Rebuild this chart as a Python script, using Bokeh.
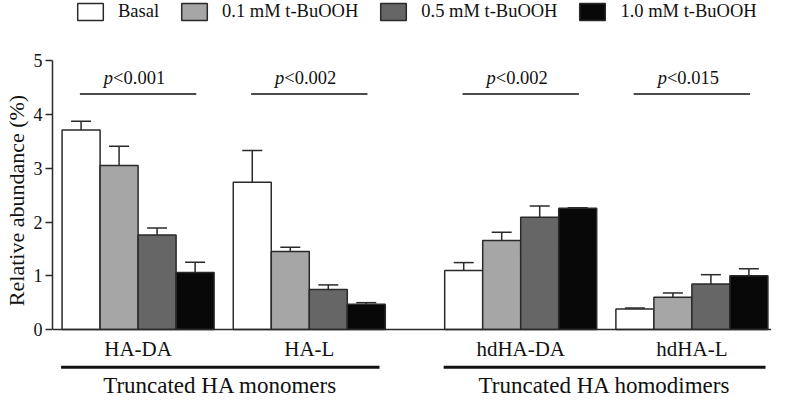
from bokeh.plotting import figure
from bokeh.models import (Range1d, Legend, LegendItem, ColumnDataSource, FixedTicker,
                          Whisker, TeeHead, Span)
from bokeh.core.properties import value
from bokeh.embed import file_html
from bokeh.resources import INLINE

# ---- data ----
categories = ["HA-DA", "HA-L", "hdHA-DA", "hdHA-L"]
treatments = ["Basal", "0.1 mM t-BuOOH", "0.5 mM t-BuOOH", "1.0 mM t-BuOOH"]
basal = [3.71, 2.74, 1.10, 0.38]
basal_err = [0.165, 0.59, 0.145, 0.02]
mM01 = [3.05, 1.45, 1.655, 0.60]
mM01_err = [0.36, 0.08, 0.155, 0.08]
mM05 = [1.76, 0.745, 2.09, 0.845]
mM05_err = [0.13, 0.085, 0.21, 0.175]
mM10 = [1.06, 0.47, 2.255, 1.00]
mM10_err = [0.19, 0.03, 0.01, 0.13]
p_values = ["<0.001", "<0.002", "<0.002", "<0.015"]
group_names = ["Truncated HA monomers", "Truncated HA homodimers"]
y_ticks = [0, 1, 2, 3, 4, 5]

series = [basal, mM01, mM05, mM10]
errors = [basal_err, mM01_err, mM05_err, mM10_err]
colors = ["#ffffff", "#a6a6a6", "#666666", "#080808"]

FONT = "Liberation Serif"
BAR_W = 0.222
GAP = 0.235
OFFSET0 = 0.5

centers = [OFFSET0 + i + (GAP if i >= 2 else 0) for i in range(len(categories))]

p = figure(width=771, height=400, output_backend="svg", toolbar_location=None,
           x_range=Range1d(0, 4.2), y_range=Range1d(-1.32, 6.12),
           x_axis_location=None, min_border=0, min_border_left=0)
p.outline_line_color = None
p.grid.visible = False
p.background_fill_color = "white"

items = []
for k, (vals, errs, col, name) in enumerate(zip(series, errors, colors, treatments)):
    xs = [c + (k - 1.5) * BAR_W for c in centers]
    src = ColumnDataSource(dict(x=xs, top=vals, upper=[v + e for v, e in zip(vals, errs)]))
    r = p.vbar(x="x", top="top", bottom=0, width=BAR_W, source=src,
               fill_color=col, line_color="#2a2a2a", line_width=1.5)
    w = Whisker(source=src, base="x", lower="top", upper="upper", dimension="height",
                line_color="#2a2a2a", line_width=1.5, lower_head=None,
                upper_head=TeeHead(size=20, line_color="#2a2a2a", line_width=1.5))
    p.add_layout(w)
    items.append(LegendItem(label=name, renderers=[r]))

# baseline
p.add_layout(Span(location=0, dimension="width", line_color="#2a2a2a", line_width=1.5))

# y axis
ax = p.yaxis[0]
ax.bounds = (0, 5)
ax.ticker = FixedTicker(ticks=y_ticks)
ax.minor_tick_line_color = None
ax.major_tick_in = 0
ax.major_tick_out = 7
ax.axis_line_width = 1.5
ax.axis_line_color = "#2a2a2a"
ax.major_tick_line_width = 1.5
ax.major_tick_line_color = "#2a2a2a"
ax.major_label_text_font = FONT
ax.major_label_text_font_size = "18px"
ax.major_label_text_color = "#111111"
ax.major_label_standoff = 3
ax.axis_label = "Relative abundance (%)"
ax.axis_label_text_font = FONT
ax.axis_label_text_font_size = "22px"
ax.axis_label_text_font_style = "normal"
ax.axis_label_text_color = "#111111"
ax.axis_label_standoff = 2

# p-value annotations
P_LINE_Y = 4.38
P_TEXT_Y = 4.68
P_HALF = 0.34
p.segment(x0=[c - P_HALF for c in centers], y0=P_LINE_Y, x1=[c + P_HALF for c in centers], y1=P_LINE_Y,
          line_color="#111111", line_width=1.5)
p.text(x=centers, y=P_TEXT_Y, text=["p"] * len(centers), text_align="right", text_baseline="middle",
       x_offset=-25, text_font=value(FONT), text_font_style="italic", text_font_size="18.5px",
       text_color="#111111")
p.text(x=centers, y=P_TEXT_Y, text=p_values, text_align="left", text_baseline="middle",
       x_offset=-25, text_font=value(FONT), text_font_size="18.5px", text_color="#111111")

# category labels
p.text(x=centers, y=-0.36, text=categories, text_align="center", text_baseline="middle",
       text_font=value(FONT), text_font_size="21px", text_color="#111111")

# group lines and labels
g_x0 = [centers[0] - 0.45, centers[2] - 0.45]
g_x1 = [centers[1] + 0.41, centers[3] + 0.43]
p.segment(x0=g_x0, y0=-0.70, x1=g_x1, y1=-0.70, line_color="#111111", line_width=3)
p.text(x=[(a + b) / 2 for a, b in zip(g_x0, g_x1)], y=-1.04, text=group_names,
       text_align="center", text_baseline="middle",
       text_font=value(FONT), text_font_size="23px", text_color="#111111")

legend = Legend(items=items, orientation="horizontal", location=(22, 378),
                glyph_width=32, glyph_height=21, label_height=21, label_standoff=12,
                spacing=19, padding=0, margin=0, border_line_alpha=0,
                background_fill_alpha=0, label_text_font=FONT,
                label_text_font_size="18.5px", label_text_color="#111111")
p.add_layout(legend)

open("out.html", "w").write(file_html(p, INLINE))
